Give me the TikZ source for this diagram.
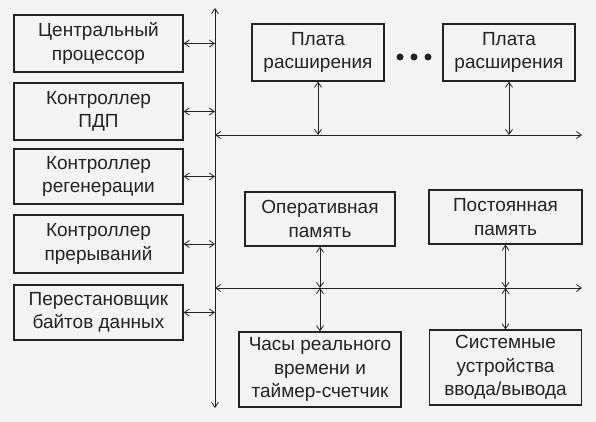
\documentclass[tikz,border=0pt]{standalone}
\usepackage{fontspec}
\setmainfont{Liberation Sans}
\usetikzlibrary{
  arrows.meta,  % Straight Barb 箭头
  calc          % 坐标计算
}
\definecolor{inkgray}{RGB}{35,35,35}
\definecolor{papergray}{RGB}{244,244,244}
\tikzset{
  unit box/.style={
    draw=inkgray,
    line width=1.3pt,
    text=inkgray,
    align=center,
    inner sep=0pt,
    font=\fontsize{19}{23.5}\selectfont
  },
  bus line/.style={
    <->,
    line width=0.8pt,
    color=inkgray
  },
  link/.style={
    <->,
    line width=0.8pt,
    color=inkgray
  },
  ellipsis dot/.style={
    circle,
    fill=inkgray,
    inner sep=0pt,
    minimum size=7pt
  }
}

\begin{document}
\begin{tikzpicture}[>={Straight Barb[length=5pt,width=7pt]}, x=1pt, y=1pt]

  % 1. 背景与边界
  \fill[papergray] (0,0) rectangle (596,422);
  \useasboundingbox (0,0) rectangle (596,422);

  % 2. 左侧一列模块
  \node[unit box, minimum width=169pt, minimum height=57pt] (cpu) at (98.5,378.5) {Центральный\\процессор};
  \node[unit box, minimum width=169pt, minimum height=57pt] (dma) at (98.5,310.5) {Контроллер\\ПДП};
  \node[unit box, minimum width=169pt, minimum height=55pt] (refresh) at (98.5,245.5) {Контроллер\\регенерации};
  \node[unit box, minimum width=169pt, minimum height=58pt] (irq) at (98.5,178) {Контроллер\\прерываний};
  \node[unit box, minimum width=169pt, minimum height=55pt] (swap) at (98.5,109.5) {Перестановщик\\байтов данных};

  % 3. 右侧模块
  \node[unit box, minimum width=132pt, minimum height=57pt] (card a) at (318,369.5) {Плата\\расширения};
  \node[unit box, minimum width=132pt, minimum height=57pt] (card b) at (509,369.5) {Плата\\расширения};
  \foreach \i/\x in {1/400,2/414,3/428}
    \node[ellipsis dot] (dot\i) at (\x,365) {};

  \node[unit box, minimum width=150pt, minimum height=54pt] (ram) at (320,203) {Оперативная\\память};
  \node[unit box, minimum width=153pt, minimum height=54pt] (rom) at (505.5,205) {Постоянная\\память};
  \node[unit box, minimum width=162pt, minimum height=75pt] (rtc) at (320,52.5) {Часы реального\\времени и\\таймер-счетчик};
  \node[unit box, minimum width=152pt, minimum height=75pt] (sysio) at (505.5,54.5) {Системные\\устройства\\ввода/вывода};

  % 4. 总线
  \coordinate (bus top) at (215,414);
  \coordinate (bus bottom) at (215,14);
  \coordinate (ext left) at (215,287);
  \coordinate (ext right) at (582,287);
  \coordinate (mem left) at (215,134);
  \coordinate (mem right) at (582,134);

  \draw[bus line] (bus bottom) -- (bus top);
  \draw[bus line] (ext left) -- (ext right);
  \draw[bus line] (mem left) -- (mem right);

  % 5. 模块与总线的连线
  \foreach \n in {cpu, dma, refresh, irq, swap}
    \draw[link] (\n.east) -- (\n.east -| bus top);

  \draw[link] (card a.south) -- (card a.south |- ext left);
  \draw[link] (card b.south) -- (card b.south |- ext left);
  \draw[link] (ram.south) -- (ram.south |- mem left);
  \draw[link] (rom.south) -- (rom.south |- mem left);
  \draw[link] (rtc.north) -- (rtc.north |- mem left);
  \draw[link] (sysio.north) -- (sysio.north |- mem left);

\end{tikzpicture}
\end{document}
